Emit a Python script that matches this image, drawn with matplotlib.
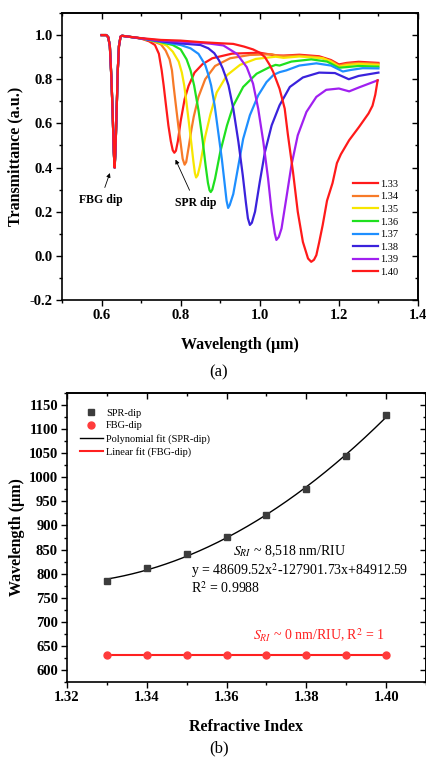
import numpy as np
import matplotlib
matplotlib.use("Agg")
import matplotlib.pyplot as plt
from matplotlib.ticker import MultipleLocator

plt.rcParams['font.family'] = ['Liberation Serif', 'DejaVu Serif']
plt.rcParams['mathtext.fontset'] = 'stix'
plt.rcParams['axes.unicode_minus'] = False

# ---------------- data: (a) transmission spectra ----------------
# FBG dip, shared by every spectrum (0.60 - 0.652 um)
fbg_wl = [0.600, 0.612, 0.617, 0.621, 0.625, 0.628, 0.631, 0.633, 0.635, 0.638, 0.641, 0.644, 0.648, 0.652]
fbg_T = [1.000, 1.000, 0.990, 0.950, 0.800, 0.650, 0.470, 0.400, 0.470, 0.650, 0.840, 0.950, 0.993, 0.997]

ri_labels = ['1.33', '1.34', '1.35', '1.36', '1.37', '1.38', '1.39', '1.40']
colors = ['#ff1a1a', '#f77a28', '#f7e600', '#1fe01f', '#1e8fff', '#3a22dc', '#a020f0', '#ff1a1a']

wl_133 = [0.655, 0.70, 0.72, 0.735, 0.745, 0.752, 0.757, 0.763, 0.769, 0.775, 0.780, 0.784, 0.788, 0.793,
          0.800, 0.810, 0.820, 0.835, 0.855, 0.880, 0.93, 1.00, 1.04, 1.06, 1.10, 1.15, 1.18, 1.20, 1.22, 1.25, 1.30]
T_133 = [0.996, 0.984, 0.972, 0.955, 0.915, 0.84, 0.772, 0.68, 0.59, 0.52, 0.478, 0.467, 0.476, 0.52,
         0.61, 0.71, 0.77, 0.83, 0.868, 0.895, 0.916, 0.920, 0.908, 0.907, 0.911, 0.904, 0.887, 0.867, 0.874, 0.879, 0.874]

wl_134 = [0.655, 0.70, 0.73, 0.75, 0.762, 0.772, 0.778, 0.782, 0.788, 0.794, 0.800, 0.805, 0.810, 0.814,
          0.820, 0.827, 0.833, 0.845, 0.862, 0.887, 0.925, 0.975, 1.03, 1.05, 1.10, 1.15, 1.18, 1.20, 1.22, 1.25, 1.30]
T_134 = [0.996, 0.985, 0.972, 0.958, 0.93, 0.89, 0.84, 0.772, 0.68, 0.59, 0.51, 0.44, 0.413, 0.425,
         0.49, 0.57, 0.63, 0.72, 0.80, 0.86, 0.895, 0.910, 0.913, 0.905, 0.907, 0.900, 0.883, 0.862, 0.870, 0.874, 0.870]

wl_135 = [0.655, 0.70, 0.74, 0.765, 0.780, 0.795, 0.803, 0.809, 0.815, 0.821, 0.827, 0.832, 0.836, 0.839, 0.843,
          0.849, 0.856, 0.862, 0.875, 0.891, 0.917, 0.95, 0.99, 1.04, 1.06, 1.10, 1.16, 1.18, 1.20, 1.22, 1.25, 1.30]
T_135 = [0.996, 0.985, 0.970, 0.952, 0.925, 0.88, 0.83, 0.772, 0.69, 0.60, 0.51, 0.43, 0.375, 0.355, 0.365,
         0.41, 0.48, 0.54, 0.64, 0.74, 0.818, 0.865, 0.892, 0.902, 0.897, 0.903, 0.895, 0.880, 0.857, 0.864, 0.869, 0.865]

wl_136 = [0.655, 0.70, 0.75, 0.78, 0.800, 0.815, 0.825, 0.834, 0.845, 0.855, 0.863, 0.869, 0.873, 0.876, 0.880,
          0.887, 0.900, 0.917, 0.933, 0.958, 0.992, 1.025, 1.04, 1.05, 1.08, 1.13, 1.17, 1.20, 1.22, 1.25, 1.30]
T_136 = [0.996, 0.985, 0.968, 0.955, 0.935, 0.89, 0.84, 0.772, 0.66, 0.53, 0.41, 0.33, 0.297, 0.289, 0.30,
         0.35, 0.47, 0.59, 0.68, 0.765, 0.825, 0.855, 0.865, 0.862, 0.880, 0.890, 0.880, 0.852, 0.855, 0.860, 0.857]

wl_137 = [0.655, 0.70, 0.75, 0.80, 0.825, 0.845, 0.862, 0.870, 0.877, 0.886, 0.895, 0.904, 0.911, 0.916, 0.920,
          0.924, 0.933, 0.946, 0.958, 0.975, 0.996, 1.017, 1.035, 1.05, 1.067, 1.10, 1.143, 1.18, 1.21, 1.23, 1.26, 1.30]
T_137 = [0.996, 0.985, 0.970, 0.955, 0.94, 0.915, 0.865, 0.82, 0.772, 0.68, 0.56, 0.44, 0.33, 0.25, 0.217,
         0.23, 0.28, 0.41, 0.53, 0.637, 0.727, 0.787, 0.82, 0.832, 0.84, 0.862, 0.872, 0.862, 0.835, 0.842, 0.850, 0.849]

wl_138 = [0.655, 0.70, 0.75, 0.80, 0.85, 0.870, 0.885, 0.897, 0.906, 0.914, 0.921, 0.933, 0.946, 0.957, 0.965,
          0.970, 0.975, 0.980, 0.988, 1.00, 1.013, 1.03, 1.05, 1.076, 1.109, 1.15, 1.19, 1.21, 1.225, 1.25, 1.30]
T_138 = [0.996, 0.985, 0.972, 0.962, 0.955, 0.94, 0.918, 0.885, 0.85, 0.81, 0.772, 0.667, 0.516, 0.365, 0.24,
         0.17, 0.14, 0.15, 0.20, 0.335, 0.47, 0.591, 0.682, 0.765, 0.808, 0.830, 0.828, 0.812, 0.800, 0.815, 0.830]

wl_139 = [0.655, 0.70, 0.75, 0.80, 0.85, 0.875, 0.908, 0.942, 0.967, 0.983, 0.996, 1.009, 1.021, 1.030, 1.038,
          1.042, 1.048, 1.055, 1.067, 1.080, 1.096, 1.118, 1.143, 1.168, 1.20, 1.226, 1.251, 1.298]
T_139 = [0.996, 0.985, 0.975, 0.970, 0.965, 0.961, 0.953, 0.915, 0.855, 0.78, 0.667, 0.516, 0.35, 0.199, 0.101,
         0.072, 0.085, 0.124, 0.26, 0.41, 0.546, 0.652, 0.72, 0.752, 0.758, 0.745, 0.763, 0.795]

wl_140 = [0.655, 0.70, 0.75, 0.80, 0.85, 0.90, 0.933, 0.96, 0.983, 1.00, 1.013, 1.025, 1.034, 1.042, 1.050,
          1.063, 1.071, 1.084, 1.096, 1.109, 1.122, 1.130, 1.137, 1.143, 1.150, 1.159, 1.170, 1.184, 1.195,
          1.205, 1.226, 1.251, 1.275, 1.285, 1.292, 1.298]
T_140 = [0.996, 0.986, 0.978, 0.975, 0.968, 0.963, 0.960, 0.948, 0.935, 0.92, 0.90, 0.865, 0.833, 0.795, 0.757,
         0.667, 0.55, 0.38, 0.20, 0.063, -0.012, -0.027, -0.018, 0.003, 0.06, 0.139, 0.25, 0.33, 0.42,
         0.46, 0.524, 0.584, 0.645, 0.68, 0.73, 0.795]

spectra_wl = [wl_133, wl_134, wl_135, wl_136, wl_137, wl_138, wl_139, wl_140]
spectra_T = [T_133, T_134, T_135, T_136, T_137, T_138, T_139, T_140]

# ---------------- data: (b) dip wavelength vs refractive index ----------------
ri = [1.33, 1.34, 1.35, 1.36, 1.37, 1.38, 1.39, 1.40]
spr_dip = [785, 811, 841, 877, 922, 975, 1045, 1129]
fbg_dip = [632, 632, 632, 632, 632, 632, 632, 632]
poly_coef = [48609.52, -127901.73, 84912.59]

fig = plt.figure(figsize=(4.27, 7.61), dpi=100)
W, H = 427, 761


def style_axes(ax, xmaj, xmin, ymaj, ymin):
    ax.xaxis.set_major_locator(MultipleLocator(xmaj))
    ax.xaxis.set_minor_locator(MultipleLocator(xmin))
    ax.yaxis.set_major_locator(MultipleLocator(ymaj))
    ax.yaxis.set_minor_locator(MultipleLocator(ymin))
    ax.tick_params(which='both', direction='out', width=1.0, top=False, right=False,
                   labelsize=10.5, pad=2)
    ax.tick_params(which='major', length=4.5)
    ax.tick_params(which='minor', length=2.5)
    for lab in ax.get_xticklabels() + ax.get_yticklabels():
        lab.set_fontweight('bold')
    for s in ax.spines.values():
        s.set_linewidth(1.2)
    top = ax.secondary_xaxis('top')
    top.xaxis.set_major_locator(MultipleLocator(xmaj))
    top.xaxis.set_minor_locator(MultipleLocator(xmin))
    top.tick_params(which='both', direction='in', width=1.0, labeltop=False)
    top.tick_params(which='major', length=4.5)
    top.tick_params(which='minor', length=2.5)
    top.spines['top'].set_linewidth(1.2)
    right = ax.secondary_yaxis('right')
    right.yaxis.set_major_locator(MultipleLocator(ymaj))
    right.yaxis.set_minor_locator(MultipleLocator(ymin))
    right.tick_params(which='both', direction='in', width=1.0, labelright=False)
    right.tick_params(which='major', length=4.5)
    right.tick_params(which='minor', length=2.5)
    right.spines['right'].set_linewidth(1.2)


# ---------------- panel (a) ----------------
ax1 = fig.add_axes([62 / W, 1 - 300 / H, 356 / W, 287 / H])
for wl, T, lab, c in zip(spectra_wl, spectra_T, ri_labels, colors):
    ax1.plot(fbg_wl + wl, fbg_T + T, color=c, lw=1.6, label=lab)
ax1.set_xlim(0.5, 1.4)
ax1.set_ylim(-0.2, 1.1)
style_axes(ax1, 0.2, 0.1, 0.2, 0.1)
ax1.set_xlabel('Wavelength (\u03bcm)', fontsize=11.5, fontweight='bold', labelpad=11)
ax1.set_ylabel('Transmittance (a.u.)', fontsize=11.5, fontweight='bold', labelpad=5)

ax1.annotate('FBG dip', xy=(0.621, 0.375), xytext=(0.597, 0.252), ha='center', va='center',
             fontsize=8.5, fontweight='bold',
             arrowprops=dict(arrowstyle='-|>', color='black', lw=0.6, mutation_scale=6, shrinkA=3, shrinkB=0))
ax1.annotate('SPR dip', xy=(0.787, 0.436), xytext=(0.837, 0.24), ha='center', va='center',
             fontsize=8.5, fontweight='bold',
             arrowprops=dict(arrowstyle='-|>', color='black', lw=0.6, mutation_scale=6, shrinkA=3, shrinkB=0))

ax1.legend(loc='center', bbox_to_anchor=(0.88, 0.25), frameon=False, fontsize=7.5,
           handlelength=2.4, handletextpad=0.2, labelspacing=0.32, borderpad=0.2)

fig.text(219 / W, 1 - 372 / H, '(a)', fontsize=12, ha='center', va='center')

# ---------------- panel (b) ----------------
ax2 = fig.add_axes([67 / W, 1 - 682 / H, 359 / W, 289 / H])
x_fit = np.linspace(ri[0], ri[-1], 200)
ax2.plot(ri, spr_dip, 's', color='#3c3c3c', ms=4.3, label='SPR-dip', zorder=3)
ax2.plot(ri, fbg_dip, 'o', color='#ff3b3b', ms=5, label='FBG-dip', zorder=3)
ax2.plot(x_fit, np.polyval(poly_coef, x_fit), color='black', lw=1.0, label='Polynomial fit (SPR-dip)')
lin_coef = np.polyfit(ri, fbg_dip, 1)
ax2.plot(ri, np.polyval(lin_coef, ri), color='#ff2020', lw=1.5, label='Linear fit (FBG-dip)')
ax2.set_xlim(1.32, 1.41)
ax2.set_ylim(575, 1175)
style_axes(ax2, 0.02, 0.01, 50, 25)
ax2.set_xlabel('Refractive Index', fontsize=11.5, fontweight='bold', labelpad=11)
ax2.set_ylabel('Wavelength (\u03bcm)', fontsize=11.5, fontweight='bold', labelpad=3)

ax2.legend(loc='center', bbox_to_anchor=(0.217, 0.863), frameon=False, fontsize=7.5,
           handlelength=2.2, handletextpad=0.3, labelspacing=0.32, borderpad=0.2)

ax2.text(1.3757, 847, r'$S_{RI}$ ~ 8,518 nm/RIU', fontsize=10, ha='center', va='center')
ax2.text(1.351, 806, r'y = 48609.52x$^2$-127901.73x+84912.59', fontsize=10, ha='left', va='center')
ax2.text(1.351, 769, r'R$^2$ = 0.9988', fontsize=10, ha='left', va='center')
ax2.text(1.3831, 673, r'$S_{RI}$ ~ 0 nm/RIU, R$^2$ = 1', fontsize=10, ha='center', va='center',
         color='#ff2020')

fig.text(219 / W, 1 - 748 / H, '(b)', fontsize=12, ha='center', va='center')

fig.savefig('out.png', dpi=100)
